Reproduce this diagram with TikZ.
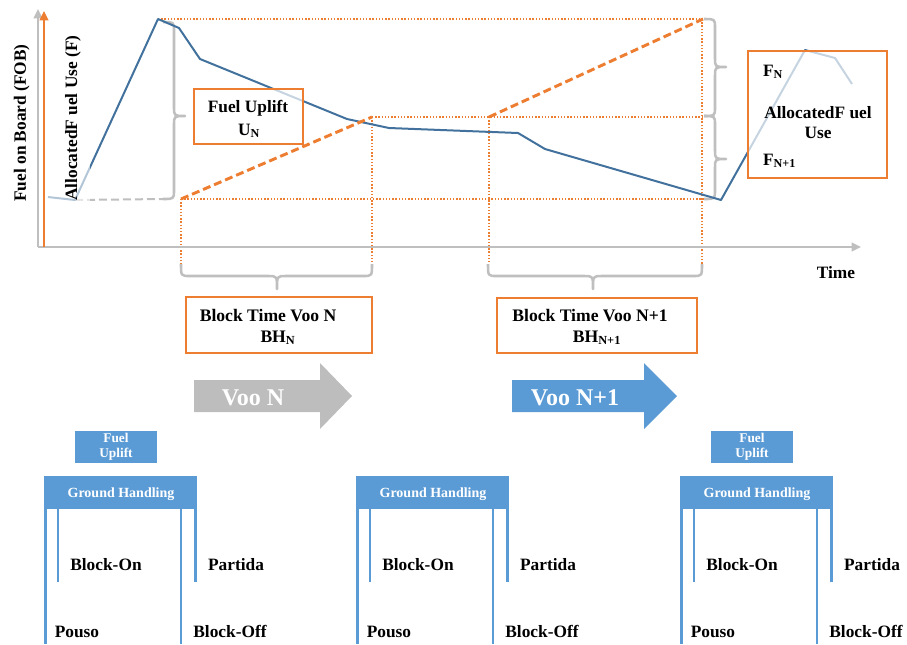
\documentclass[tikz,border=0pt]{standalone}
\usepackage{fontspec}
\setmainfont{Liberation Serif}
\usetikzlibrary{arrows.meta}

\definecolor{accent}{HTML}{ED7D31}
\definecolor{fobline}{HTML}{41719C}
\definecolor{axisgray}{HTML}{BFBFBF}
\definecolor{tileblue}{HTML}{5B9BD5}
\definecolor{arrowgray}{HTML}{BDBDBD}

% vertical curly brace opening to the right:
% #1 base x, #2 top y, #3 tip y, #4 bottom y
\newcommand{\Vbrc}[4]{%
  \draw[brc] (#1,#2) .. controls (#1+11,#2) .. (#1+11,#2+9)
    -- (#1+11,#3-9) .. controls (#1+11,#3) .. (#1+22,#3)
    .. controls (#1+11,#3) .. (#1+11,#3+9)
    -- (#1+11,#4-9) .. controls (#1+11,#4) .. (#1,#4);}
% horizontal curly brace opening downwards:
% #1 end y, #2 left x, #3 tip x, #4 right x
\newcommand{\Hbrc}[4]{%
  \draw[brc] (#2,#1) .. controls (#2,#1+12) .. (#2+9,#1+12)
    -- (#3-9,#1+12) .. controls (#3,#1+12) .. (#3,#1+25)
    .. controls (#3,#1+12) .. (#3+9,#1+12)
    -- (#4-9,#1+12) .. controls (#4,#1+12) .. (#4,#1);}

\begin{document}
\begin{tikzpicture}[x=0.75pt,y=-0.75pt,
  every node/.style={inner sep=0pt, outer sep=0pt},
  lbl/.style={font=\bfseries\fontsize{13}{15}\selectfont},
  lblsm/.style={font=\bfseries\fontsize{13.2}{15}\selectfont},
  axis/.style={draw=axisgray, line width=1.5pt, -{Triangle[length=7pt,width=6.5pt]}},
  yaxis/.style={draw=accent, line width=1.6pt, -{Triangle[length=7pt,width=6.5pt]}},
  guide/.style={draw=accent, line width=0.9pt, dash pattern=on 1pt off 1.4pt},
  uplift/.style={draw=accent, line width=2.2pt, dash pattern=on 6pt off 3pt},
  fob/.style={draw=fobline, line width=1.5pt, line join=round},
  brc/.style={draw=axisgray, line width=1.9pt, line join=round},
  obox/.style={draw=accent, line width=1.6pt, fill=white},
  glass/.style={draw=accent, line width=1.6pt, fill=white, fill opacity=0.7, text opacity=1},
  ghbar/.style={fill=tileblue, minimum width=114.75pt, minimum height=24.75pt},
  ghtxt/.style={text=white, font=\bfseries\fontsize{10.5}{12}\selectfont},
  fuelbox/.style={fill=tileblue, text=white, minimum width=61.5pt, minimum height=24pt,
    align=center, font=\bfseries\fontsize{10}{11.25}\selectfont},
  post/.style={draw=tileblue, line width=2.2pt},
  bigtxt/.style={text=white, font=\bfseries\fontsize{18}{20}\selectfont}]
\useasboundingbox (0,0) rectangle (907,644);

% ---- named points of the fuel-on-board curve ----
\coordinate (s0) at (48,197);
\coordinate (s1) at (75,200);
\coordinate (pk1) at (158,19);
\coordinate (s3) at (179,28);
\coordinate (s4) at (200,59);
\coordinate (s5) at (347,119);
\coordinate (s6) at (389,128);
\coordinate (s7) at (518,133);
\coordinate (s8) at (545,149);
\coordinate (lo) at (721,200);
\coordinate (pk2) at (805,50);
\coordinate (s11) at (835,58);
\coordinate (s12) at (852,84);

% ---- uplift ramps and guide points ----
\coordinate (ua) at (181,199);
\coordinate (ub) at (372,117);
\coordinate (uc) at (489,117);
\coordinate (ud) at (703,19);
\coordinate (gtr) at (702,19);
\coordinate (gmr) at (702,117);
\coordinate (gbr) at (703,199);
\coordinate (f1) at (181,264);
\coordinate (f2) at (372,264);
\coordinate (f3) at (489,264);
\coordinate (f4) at (702,264);
\coordinate (bl) at (163,199);

% dotted guides
\draw[guide] (pk1) -- (gtr) -- (f4);
\draw[guide] (ub) -- (gmr);
\draw[guide] (ub) -- (f2);
\draw[guide] (ua) -- (f1);
\draw[guide] (uc) -- (f3);
\draw[guide] (ua) -- (gbr);

% grey dashed base of the allocated-fuel brace
\draw[draw=axisgray, line width=1.5pt, dash pattern=on 6pt off 3pt] (s1) -- (bl);

% braces
\Vbrc{163}{22}{116}{199}
\Vbrc{704}{19}{67}{116}
\Vbrc{704}{116}{159}{199}
\Hbrc{264}{181}{277}{372}
\Hbrc{264}{488}{593}{702}

% axes
\coordinate (O) at (38,247);
\coordinate (yt) at (38,9);
\coordinate (xt) at (861,247);
\coordinate (oa) at (44,247);
\coordinate (ot) at (44,11);
\draw[axis] (O) -- (yt);
\draw[axis] (O) -- (xt);
\draw[yaxis] (oa) -- (ot);

% fuel-on-board curve
\draw[fob] (s0) -- (s1) -- (pk1) -- (s3) -- (s4) -- (s5) -- (s6) -- (s7) -- (s8)
  -- (lo) -- (pk2) -- (s11) -- (s12);

% uplift ramps
\draw[uplift] (ua) -- (ub);
\draw[uplift] (uc) -- (ud);

% axis titles
\fill[white, fill opacity=0.6] (47,30) rectangle (90,205);
\node[lbl, rotate=90, anchor=base] (ylab) at (26,123) {Fuel on Board (FOB)};
\node[lbl, rotate=90, anchor=base] (flab) at (77,118) {AllocatedF uel Use (F)};
\node[lbl, anchor=base] (tlab) at (836,278) {Time};

% fuel uplift box
\node[glass, minimum width=81.75pt, minimum height=41.25pt] (upbox) at (248.5,116.5) {};
\node[lbl, anchor=base] (uptxt) at (248,112) {Fuel Uplift};
\node[lbl, anchor=base] (un) at (249,135) {U\textsubscript{N}};

% allocated fuel box
\node[glass, minimum width=104.25pt, minimum height=95.25pt] (fbox) at (817.5,114.5) {};
\node[lbl, anchor=base west] (fn) at (763,76) {F\textsubscript{N}};
\node[lbl, anchor=base] (aftxt) at (818,118) {AllocatedF uel};
\node[lbl, anchor=base] (use) at (818,138) {Use};
\node[lbl, anchor=base west] (fn1) at (763,165) {F\textsubscript{N+1}};

% block time boxes
\node[obox, minimum width=139.5pt, minimum height=42pt] (bt1) at (279,325) {};
\node[lblsm, anchor=base] (bt1a) at (268,321) {Block Time Voo N};
\node[lblsm, anchor=base] (bt1b) at (278,342) {BH\textsubscript{N}};
\node[obox, minimum width=150pt, minimum height=41.25pt] (bt2) at (597,325.5) {};
\node[lblsm, anchor=base] (bt2a) at (590,321) {Block Time Voo N+1};
\node[lblsm, anchor=base] (bt2b) at (597,342) {BH\textsubscript{N+1}};

% flight arrows
\fill[arrowgray] (194,380) -- (320,380) -- (320,363) -- (352,396) -- (320,429)
  -- (320,412) -- (194,412) -- cycle;
\node[bigtxt, anchor=base] (vn) at (253,405) {Voo N};
\fill[tileblue] (512,380) -- (644,380) -- (644,363) -- (677,396) -- (644,429)
  -- (644,412) -- (512,412) -- cycle;
\node[bigtxt, anchor=base] (vn1) at (575,405) {Voo N+1};

% ground handling stations
\foreach \i/\ox in {1/44,2/356,3/680} {
  \node[ghbar] (gh\i) at (\ox+76.5,492.5) {};
  \node[ghtxt, anchor=base] (ght\i) at (\ox+77,497) {Ground Handling};
  \draw[post] (\ox+1.5,509) -- (\ox+1.5,644);
  \draw[post] (\ox+14,509) -- (\ox+14,582);
  \draw[post] (\ox+137,509) -- (\ox+137,644);
  \draw[post] (\ox+151.5,509) -- (\ox+151.5,582);
  \node[lbl, anchor=base] (bon\i) at (\ox+62,570) {Block-On};
  \node[lbl, anchor=base] (par\i) at (\ox+192,570) {Partida};
  \node[lbl, anchor=base] (pou\i) at (\ox+33,637) {Pouso};
  \node[lbl, anchor=base] (boff\i) at (\ox+186,637) {Block-Off};
}
\node[fuelbox] (fu1) at (116,447) {Fuel\\Uplift};
\node[fuelbox] (fu3) at (752,447) {Fuel\\Uplift};
\end{tikzpicture}
\end{document}
